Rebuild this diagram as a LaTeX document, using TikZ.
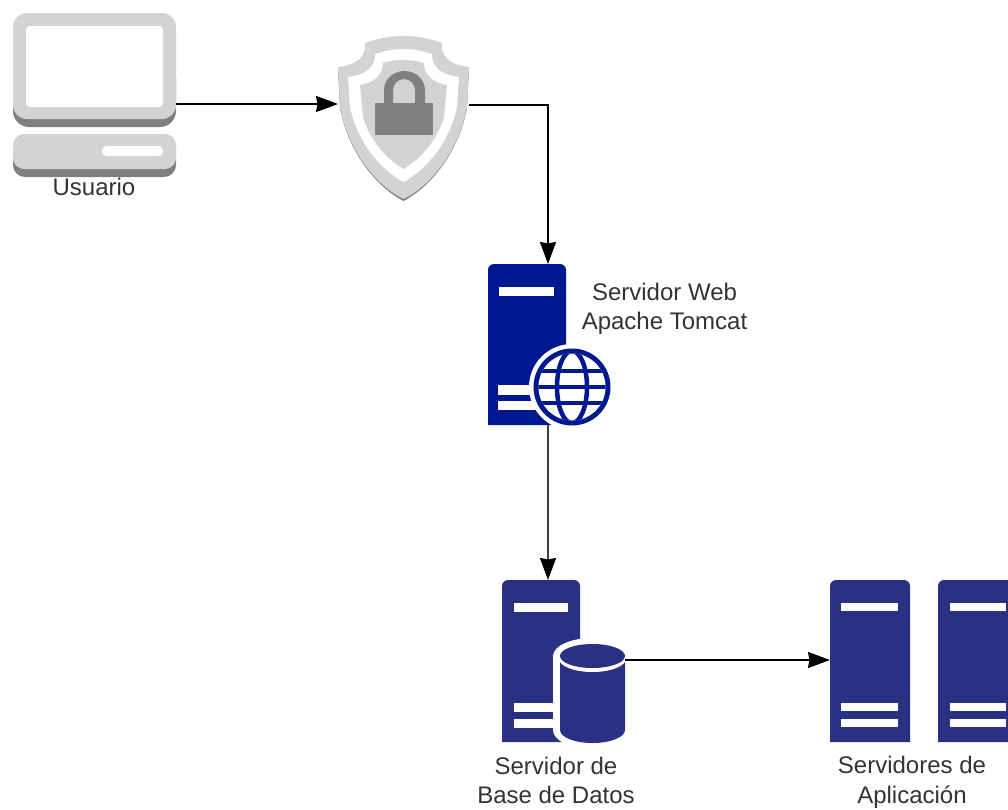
\documentclass[tikz,border=0pt]{standalone}
\usepackage{fontspec}
\setmainfont{Liberation Sans}
\usetikzlibrary{arrows.meta}
\definecolor{srvweb}{HTML}{00188F}
\definecolor{srvblue}{HTML}{2A3183}
\definecolor{iconlight}{HTML}{D2D3D3}
\definecolor{icondark}{HTML}{808080}
\definecolor{labelgray}{HTML}{333333}
\tikzset{
  conn/.style={draw=black,line width=1.8pt,-{Stealth[length=22pt,width=16pt,inset=1.5pt,color=black]}},
  hit/.style={inner sep=0pt,outer sep=0pt,rectangle},
  lbl/.style={inner sep=0pt,align=center,text=labelgray,font=\fontsize{24}{29.5}\selectfont},
  bar/.style={fill=white},
}
\begin{document}
\begin{tikzpicture}[x=1pt,y=-1pt]
\useasboundingbox (0,0) rectangle (1008,809);
\fill[white] (0,0) rectangle (1008,809);

% Monitor and keyboard
\fill[icondark,rounded corners=16pt] (13,60) rectangle (176,127);
\fill[iconlight,rounded corners=14pt] (13,13) rectangle (176,119);
\fill[white,rounded corners=4pt] (26,26) rectangle (163,107);
\fill[icondark,rounded corners=12pt] (13,145) rectangle (176,177);
\fill[iconlight,rounded corners=11pt] (13,134) rectangle (176,169);
\fill[white,rounded corners=4.5pt] (102,146) rectangle (163,156);
\node[hit,minimum width=163pt,minimum height=114pt] (monitor) at (94.5,70) {};
\node[lbl] (usuario) at (94,187) {Usuario};

% Shield
\fill[icondark] (403.5,37.5) .. controls (390,37.5) and (375,40.5) .. (365,44.5)
  .. controls (367,56) and (358,66) .. (338,68.5) -- (340,108)
  .. controls (348,151) and (375,186) .. (403.5,201)
  .. controls (432,186) and (459,151) .. (467,108) -- (469,68.5)
  .. controls (449,66) and (440,56) .. (442,44.5)
  .. controls (432,40.5) and (417,37.5) .. (403.5,37.5) -- cycle;
\fill[iconlight] (403.5,36) .. controls (390,36) and (375,39) .. (365,43)
  .. controls (367,55) and (358,65) .. (338,67) -- (340,107)
  .. controls (348,150) and (375,185) .. (403.5,199)
  .. controls (432,185) and (459,150) .. (467,107) -- (469,67)
  .. controls (449,65) and (440,55) .. (442,43)
  .. controls (432,39) and (417,36) .. (403.5,36) -- cycle;
\fill[white] (403.5,49) .. controls (394,49) and (384,51) .. (375,54)
  .. controls (376,66) and (366,75) .. (348,77) -- (350,107)
  .. controls (357,140) and (378,168) .. (403.5,182)
  .. controls (429,168) and (450,140) .. (457,107) -- (459,77)
  .. controls (441,75) and (431,66) .. (432,54)
  .. controls (423,51) and (413,49) .. (403.5,49) -- cycle;
\fill[iconlight] (403.5,60) .. controls (396,60) and (389,61) .. (383,63)
  .. controls (383,75) and (374,83) .. (360,85) -- (363,117)
  .. controls (370,140) and (385,158) .. (403.5,169)
  .. controls (422,158) and (437,140) .. (444,117) -- (447,85)
  .. controls (433,83) and (424,75) .. (424,63)
  .. controls (418,61) and (411,60) .. (403.5,60) -- cycle;
\fill[icondark,even odd rule] (384,104) -- (384,90) arc[start angle=180,end angle=0,x radius=20.5pt,y radius=19pt] -- (425,104) -- cycle
  (393,104) -- (393,90) arc[start angle=180,end angle=0,x radius=11pt,y radius=11pt] -- (415,104) -- cycle;
\fill[icondark] (375,103) rectangle (433,135);
\node[hit,minimum width=131pt,minimum height=164pt] (shield) at (403.5,118) {};

% Web server
\fill[srvweb] (488,425) [rounded corners=6pt] -- (488,264) -- (566,264) [sharp corners] -- (566,425) -- cycle;
\fill[bar] (499,287) rectangle (554,296);
\fill[bar] (498,385) rectangle (540,395);
\fill[bar] (498,401) rectangle (540,410);
\fill[white] (572,387) circle[radius=43pt];
\fill[srvweb] (572,387) circle[radius=38.5pt];
\begin{scope}
  \clip (572,387) circle[radius=33.5pt];
  \fill[white] (538,353) rectangle (606,421);
  \draw[srvweb,line width=4.5pt] (572,387) ellipse[x radius=15pt,y radius=36pt];
  \draw[srvweb,line width=4.5pt] (535,387) -- (609,387);
  \draw[srvweb,line width=4.5pt] (535,371) -- (609,371);
  \draw[srvweb,line width=4.5pt] (535,403) -- (609,403);
\end{scope}
\node[hit,minimum width=78pt,minimum height=161pt] (web) at (527,344.5) {};
\node[lbl] (weblabel) at (664.5,309) {Servidor Web\\Apache Tomcat};

% Database server
\fill[srvblue] (502,742) [rounded corners=6pt] -- (502,580) -- (580,580) [sharp corners] -- (580,742) -- cycle;
\fill[bar] (514,603) rectangle (568,612);
\fill[bar] (514,703) rectangle (560,712);
\fill[bar] (514,719) rectangle (560,728);
\fill[white] (592.5,656) ellipse[x radius=39.5pt,y radius=18pt];
\fill[white] (553,656) rectangle (632,730);
\fill[white] (592.5,730) ellipse[x radius=39.5pt,y radius=19pt];
\fill[srvblue] (560,657) -- (560,730) arc[start angle=180,end angle=360,x radius=32.5pt,y radius=13pt] -- (625,657) -- cycle;
\fill[white] (592.5,658) ellipse[x radius=34pt,y radius=14pt];
\fill[srvblue] (592.5,656) ellipse[x radius=32.5pt,y radius=12pt];
\node[hit,minimum width=78pt,minimum height=162pt] (db) at (541,661) {};
\node[hit,minimum width=65pt,minimum height=99pt] (cyl) at (592.5,693.5) {};
\node[lbl] (dblabel) at (556,780.5) {Servidor de\\Base de Datos};

% Application servers
\fill[srvblue] (830,742) [rounded corners=6pt] -- (830,580) -- (910,580) [sharp corners] -- (910,742) -- cycle;
\fill[bar] (841,603) rectangle (898,611);
\fill[bar] (841,703) rectangle (898,711);
\fill[bar] (841,719) rectangle (898,727);
\fill[srvblue] (938,742) [rounded corners=6pt] -- (938,580) -- (1020,580) [sharp corners] -- (1020,742) -- cycle;
\fill[bar] (950,603) rectangle (1006,611);
\fill[bar] (950,703) rectangle (1006,711);
\fill[bar] (950,719) rectangle (1006,727);
\node[hit,minimum width=80pt,minimum height=162pt] (app) at (870,661) {};
\node[hit,minimum width=70pt,minimum height=162pt] (apptwo) at (973,661) {};
\node[lbl] (applabel) at (912,782.5) {Servidores de\\Aplicación};

% Connectors
\draw[conn] ([yshift=-34pt]monitor.east) -- ([yshift=14pt]shield.west);
\draw[conn] ([yshift=13pt]shield.east) -| ([xshift=21pt]web.north);
\draw[conn,draw=black!75] ([xshift=21pt]web.south) -- ([xshift=7pt]db.north);
\draw[conn] ([yshift=33.5pt]cyl.east) -- ([yshift=1pt]app.west);
\end{tikzpicture}
\end{document}
